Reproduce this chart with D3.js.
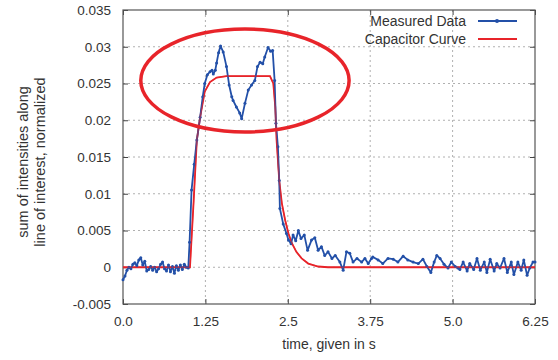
<!DOCTYPE html>
<html>
<head>
<meta charset="utf-8">
<script src="https://cdn.jsdelivr.net/npm/d3@7"></script>
<style>
  body { margin: 0; background: #fff; }
  text { font-family: "Liberation Sans", Arial, sans-serif; fill: #333; }
</style>
</head>
<body>
<div id="chart"></div>
<script>
var measT = [0.00, 0.03, 0.06, 0.09, 0.12, 0.15, 0.18, 0.21, 0.24, 0.27, 0.30, 0.33, 0.36, 0.39, 0.42,
  0.45, 0.48, 0.51, 0.54, 0.57, 0.60, 0.63, 0.66, 0.69, 0.72, 0.75, 0.78, 0.81, 0.84, 0.87, 0.90, 0.93,
  0.96, 0.99, 1.01, 1.04, 1.08, 1.12, 1.17, 1.21, 1.24, 1.28, 1.32, 1.35, 1.37, 1.40, 1.42, 1.45, 1.48,
  1.52, 1.57, 1.61, 1.65, 1.67, 1.72, 1.77, 1.80, 1.85, 1.90, 1.95, 2.00, 2.04, 2.08, 2.12, 2.15, 2.20,
  2.24, 2.27, 2.30, 2.32, 2.35, 2.37, 2.38, 2.43, 2.48, 2.51, 2.55, 2.58, 2.62, 2.66, 2.70, 2.75, 2.80,
  2.86, 2.91, 2.96, 3.01, 3.06, 3.11, 3.17, 3.22, 3.29, 3.34, 3.39, 3.44, 3.49, 3.55, 3.62, 3.67, 3.72,
  3.77, 3.79, 3.87, 3.94, 4.02, 4.10, 4.17, 4.25, 4.32, 4.40, 4.48, 4.55, 4.61, 4.67, 4.72, 4.76, 4.81,
  4.87, 4.93, 4.98, 5.04, 5.08, 5.11, 5.16, 5.22, 5.26, 5.32, 5.37, 5.42, 5.48, 5.52, 5.57, 5.63, 5.67,
  5.72, 5.78, 5.83, 5.89, 5.93, 5.99, 6.04, 6.08, 6.13, 6.17, 6.22, 6.25];
var measV = [-0.0017, -0.0012, -0.0004, 0.0000, -0.0002, 0.0004, 0.0006, 0.0002, 0.0010, 0.0013, 0.0003,
  0.0008, -0.0005, -0.0003, 0.0001, -0.0004, 0.0000, -0.0006, -0.0002, 0.0004, 0.0007, -0.0002, -0.0005,
  0.0003, -0.0006, 0.0001, -0.0008, 0.0002, -0.0004, 0.0003, -0.0003, 0.0004, 0.0000, -0.0001, 0.0034,
  0.0105, 0.0140, 0.0173, 0.0204, 0.0232, 0.0250, 0.0262, 0.0266, 0.0268, 0.0263, 0.0268, 0.0278, 0.0292,
  0.0301, 0.0293, 0.0273, 0.0248, 0.0232, 0.0227, 0.0218, 0.0210, 0.0202, 0.0223, 0.0241, 0.0248, 0.0254,
  0.0273, 0.0279, 0.0277, 0.0286, 0.0299, 0.0294, 0.0295, 0.0254, 0.0196, 0.0164, 0.0118, 0.0080, 0.0059,
  0.0046, 0.0037, 0.0032, 0.0044, 0.0036, 0.0050, 0.0039, 0.0044, 0.0023, 0.0037, 0.0040, 0.0023, 0.0028,
  0.0016, 0.0021, 0.0012, 0.0016, 0.0007, -0.0004, 0.0021, 0.0019, 0.0007, 0.0012, 0.0007, 0.0012, 0.0005,
  0.0012, 0.0014, 0.0010, 0.0005, 0.0012, 0.0011, 0.0007, 0.0015, 0.0010, 0.0007, 0.0005, 0.0011, 0.0001,
  -0.0007, 0.0007, 0.0016, 0.0012, 0.0004, -0.0001, 0.0007, 0.0001, -0.0001, -0.0003, 0.0007, -0.0005,
  0.0005, -0.0003, 0.0012, -0.0004, 0.0007, -0.0007, 0.0011, -0.0005, 0.0005, -0.0001, 0.0012, -0.0007,
  0.0007, -0.0010, 0.0007, -0.0004, 0.0010, -0.0011, -0.0001, 0.0007, 0.0007];

// capacitor (fit) curve
var capT = [0.00, 1.016, 1.07, 1.12, 1.17, 1.24, 1.32, 1.42, 1.57, 2.23, 2.28, 2.31, 2.33, 2.37, 2.41,
  2.46, 2.51, 2.56, 2.63, 2.71, 2.81, 2.96, 3.11, 6.25];
var capV = [0, 0, 0.0087, 0.0173, 0.0204, 0.0239, 0.0252, 0.0258, 0.0260, 0.0260, 0.0250, 0.0218, 0.0173,
  0.0118, 0.0087, 0.0064, 0.0046, 0.0033, 0.0021, 0.0012, 0.0005, 0.0001, 0, 0];

var xTicks = [0, 1.25, 2.5, 3.75, 5.0, 6.25];
var xTickLabels = ["0.0", "1.25", "2.5", "3.75", "5.0", "6.25"];
var yTicks = [-0.005, 0, 0.005, 0.01, 0.015, 0.02, 0.025, 0.03, 0.035];
var yTickLabels = ["-0.005", "0", "0.005", "0.01", "0.015", "0.02", "0.025", "0.03", "0.035"];

var seriesNames = ["Measured Data", "Capacitor Curve"];

// highlight ellipse in data units: centre t, centre value, radius t, radius value
var ringT = 1.85, ringV = 0.0254, ringRT = 1.58, ringRV = 0.0070;

var blue = "#2350a8";
var red = "#e8242a";

var margin = { top: 10, right: 23, bottom: 56, left: 123 };
var W = 558, H = 360;
var width = W - margin.left - margin.right;
var height = H - margin.top - margin.bottom;

var svg = d3.select("#chart").append("svg")
  .attr("width", W)
  .attr("height", H);

var g = svg.append("g")
  .attr("transform", "translate(" + margin.left + "," + margin.top + ")");

var x = d3.scaleLinear().domain([0, 6.25]).range([0, width]);
var y = d3.scaleLinear().domain([-0.005, 0.035]).range([height, 0]);

// dotted grid
g.append("g").selectAll("line")
  .data(xTicks.slice(1, -1))
  .enter().append("line")
  .attr("x1", function (d) { return x(d); })
  .attr("x2", function (d) { return x(d); })
  .attr("y1", 0).attr("y2", height)
  .style("stroke", "#b0b0b0")
  .style("stroke-dasharray", "2,3");

g.append("g").selectAll("line")
  .data(yTicks.slice(1, -1))
  .enter().append("line")
  .attr("y1", function (d) { return y(d); })
  .attr("y2", function (d) { return y(d); })
  .attr("x1", 0).attr("x2", width)
  .style("stroke", "#b0b0b0")
  .style("stroke-dasharray", "2,3");

// axes with inward ticks
var xAxis = d3.axisBottom(x).tickValues(xTicks).tickSize(-5).tickPadding(12)
  .tickFormat(function (d, i) { return xTickLabels[i]; });
var yAxis = d3.axisLeft(y).tickValues(yTicks).tickSize(-5).tickPadding(12)
  .tickFormat(function (d, i) { return yTickLabels[i]; });

function styleAxis(sel) {
  sel.select(".domain").remove();
  sel.selectAll("line").style("stroke", "#444");
  sel.selectAll("text").style("font-size", "13.5px").style("fill", "#333")
    .style("font-family", "'Liberation Sans', Arial, sans-serif");
}

g.append("g").attr("transform", "translate(0," + height + ")").call(xAxis).call(styleAxis);
g.append("g").call(yAxis).call(styleAxis);
g.append("g").call(d3.axisTop(x).tickValues(xTicks).tickSize(-5).tickFormat(""))
  .call(styleAxis);
g.append("g").attr("transform", "translate(" + width + ",0)")
  .call(d3.axisRight(y).tickValues(yTicks).tickSize(-5).tickFormat(""))
  .call(styleAxis);

g.append("rect")
  .attr("width", width).attr("height", height)
  .style("fill", "none").style("stroke", "#555").style("stroke-width", 1.2);

// curves
var meas = measT.map(function (t, i) { return [t, measV[i]]; });
var cap = capT.map(function (t, i) { return [t, capV[i]]; });

var line = d3.line()
  .x(function (d) { return x(d[0]); })
  .y(function (d) { return y(d[1]); });

g.append("path").datum(cap).attr("d", line)
  .style("fill", "none").style("stroke", red).style("stroke-width", 1.8);

g.append("path").datum(meas).attr("d", line)
  .style("fill", "none").style("stroke", blue).style("stroke-width", 1.8)
  .style("stroke-linejoin", "round");

g.append("g").selectAll("circle").data(meas).enter().append("circle")
  .attr("cx", function (d) { return x(d[0]); })
  .attr("cy", function (d) { return y(d[1]); })
  .attr("r", 1.5)
  .style("fill", blue);

g.append("path").datum(cap).attr("d", line)
  .style("fill", "none").style("stroke", red).style("stroke-width", 1.2).style("opacity", 0.6);

// ring annotation
g.append("ellipse")
  .attr("cx", x(ringT))
  .attr("cy", y(ringV))
  .attr("rx", x(ringT + ringRT) - x(ringT))
  .attr("ry", y(ringV - ringRV) - y(ringV))
  .style("fill", "none").style("stroke", red).style("stroke-width", 3.5);

// legend
var legend = svg.append("g");
seriesNames.forEach(function (name, i) {
  var ly = 21 + i * 18;
  legend.append("text")
    .attr("x", 466).attr("y", ly).attr("dy", "0.35em")
    .style("text-anchor", "end").style("font-size", "14px")
    .text(name);
  legend.append("line")
    .attr("x1", 478).attr("x2", 517).attr("y1", ly).attr("y2", ly)
    .style("stroke", i === 0 ? blue : red).style("stroke-width", 1.8);
  if (i === 0) {
    legend.append("circle").attr("cx", 497).attr("cy", ly).attr("r", 2).style("fill", blue);
  }
});

// axis titles
svg.append("text")
  .attr("x", margin.left + width / 2).attr("y", 349)
  .style("text-anchor", "middle").style("font-size", "14px")
  .text("time, given in s");

var yt = svg.append("text")
  .attr("transform", "translate(28," + (margin.top + height / 2 + 5) + ") rotate(-90)")
  .style("text-anchor", "middle").style("font-size", "14.5px");
yt.append("tspan").attr("x", 0).attr("dy", 0).text("sum of intensities along");
yt.append("tspan").attr("x", 0).attr("dy", "17px").text("line of interest, normalized");
</script>
</body>
</html>
